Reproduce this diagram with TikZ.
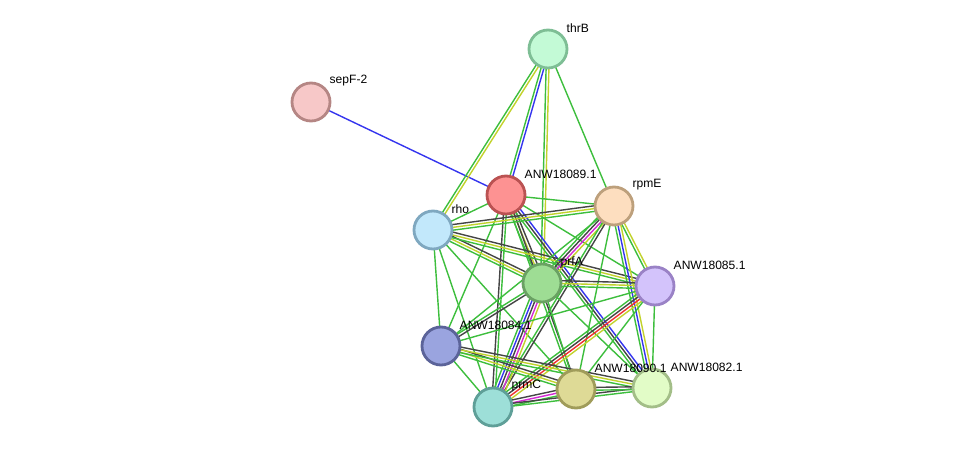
\documentclass[tikz,border=0pt]{standalone}
\usepackage{fontspec}
\setmainfont{Liberation Sans}
\usetikzlibrary{calc,backgrounds}
% edge colours
\definecolor{egreen}{HTML}{3DBE3D}
\definecolor{eyellow}{HTML}{C2D22C}
\definecolor{eblack}{HTML}{454545}
\definecolor{eblue}{HTML}{3535EE}
\definecolor{emagenta}{HTML}{D42AD4}
\definecolor{ered}{HTML}{EE3030}
% node colours
\definecolor{thrBf}{HTML}{C3FAD6}\definecolor{thrBd}{HTML}{7EBE95}
\definecolor{sepFf}{HTML}{F7C8C8}\definecolor{sepFd}{HTML}{B58684}
\definecolor{aeightninef}{HTML}{FD9292}\definecolor{aeightnined}{HTML}{BA5252}
\definecolor{rpmEf}{HTML}{FDDEBF}\definecolor{rpmEd}{HTML}{BDA07C}
\definecolor{rhof}{HTML}{C2E8FB}\definecolor{rhod}{HTML}{7FA8C0}
\definecolor{prfAf}{HTML}{9EDD94}\definecolor{prfAd}{HTML}{6AA163}
\definecolor{aeightfivef}{HTML}{D3C3FB}\definecolor{aeightfived}{HTML}{9A82C6}
\definecolor{aeightfourf}{HTML}{9AA4DF}\definecolor{aeightfourd}{HTML}{5B6399}
\definecolor{prmCf}{HTML}{9DDFD8}\definecolor{prmCd}{HTML}{5F9F98}
\definecolor{aninetyf}{HTML}{DEDA96}\definecolor{aninetyd}{HTML}{A09C5A}
\definecolor{aeighttwof}{HTML}{E2FCC7}\definecolor{aeighttwod}{HTML}{A3BE88}

% one link = parallel lines, one per evidence colour
\newcommand\linkedge[3]{%
  \foreach \c [count=\n] in {#3} {\xdef\nlines{\n}}
  \foreach \c [count=\i] in {#3} {
    \pgfmathsetmacro\off{(\i-(\nlines+1)/2)*2.4}
    \draw[\c] ($(#1)!\off pt!90:(#2)$) -- ($(#2)!\off pt!-90:(#1)$);
  }%
}

\begin{document}
\begin{tikzpicture}[x=0.03cm, y=-0.03cm,
  prot/.style={circle, minimum size=1.14cm, inner sep=0pt, line width=2.4pt},
  lbl/.style={anchor=west, inner sep=0pt, font=\fontsize{10.3}{12}\selectfont},
  every path/.style={line width=1.2pt}]
\useasboundingbox (0,0) rectangle (975,453);
\node[prot, fill=thrBf, draw=thrBd] (thrB) at (548,49) {};
\node[prot, fill=sepFf, draw=sepFd] (sepF) at (311,102) {};
\node[prot, fill=aeightninef, draw=aeightnined] (a89) at (506,195) {};
\node[prot, fill=rpmEf, draw=rpmEd] (rpmE) at (614,206) {};
\node[prot, fill=rhof, draw=rhod] (rho) at (433,230) {};
\node[prot, fill=prfAf, draw=prfAd] (prfA) at (542,283) {};
\node[prot, fill=aeightfivef, draw=aeightfived] (a85) at (655,286) {};
\node[prot, fill=aeightfourf, draw=aeightfourd] (a84) at (441,346) {};
\node[prot, fill=prmCf, draw=prmCd] (prmC) at (493,407) {};
\node[prot, fill=aninetyf, draw=aninetyd] (a90) at (576,389) {};
\node[prot, fill=aeighttwof, draw=aeighttwod] (a82) at (652,388) {};
% labels
\node[lbl] (thrB-l) at ($(thrB)+(18,-21)$) {thrB};
\node[lbl] (sepF-l) at ($(sepF)+(18,-21)$) {sepF-2};
\node[lbl] (a89-l) at ($(a89)+(18,-21)$) {ANW18089.1};
\node[lbl] (rpmE-l) at ($(rpmE)+(18,-21)$) {rpmE};
\node[lbl] (rho-l) at ($(rho)+(18,-21)$) {rho};
\node[lbl] (prfA-l) at ($(prfA)+(18,-21)$) {prfA};
\node[lbl] (a85-l) at ($(a85)+(18,-21)$) {ANW18085.1};
\node[lbl] (a84-l) at ($(a84)+(18,-21)$) {ANW18084.1};
\node[lbl] (prmC-l) at ($(prmC)+(18,-21)$) {prmC};
\node[lbl] (a90-l) at ($(a90)+(18,-21)$) {ANW18090.1};
\node[lbl] (a82-l) at ($(a82)+(18,-21)$) {ANW18082.1};
\begin{pgfonlayer}{background}
\linkedge{sepF}{a89}{eblue}
\linkedge{thrB}{rho}{egreen,eyellow}
\linkedge{thrB}{a89}{egreen,eblue}
\linkedge{thrB}{prfA}{egreen,eyellow}
\linkedge{thrB}{rpmE}{egreen}
\linkedge{a89}{rho}{egreen}
\linkedge{a89}{rpmE}{egreen}
\linkedge{a89}{prfA}{egreen,eyellow,eblack}
\linkedge{a89}{a82}{egreen,eblack,eblue}
\linkedge{a89}{a85}{egreen}
\linkedge{a89}{a84}{egreen}
\linkedge{a89}{prmC}{eblack,egreen}
\linkedge{a89}{a90}{egreen,eblack}
\linkedge{rho}{rpmE}{egreen,eyellow,eblack}
\linkedge{rho}{prfA}{egreen,eyellow,eblack}
\linkedge{rho}{a85}{egreen,eyellow,eblack}
\linkedge{rho}{a84}{egreen}
\linkedge{rho}{prmC}{egreen}
\linkedge{rho}{a90}{egreen}
\linkedge{rpmE}{prfA}{egreen,eblack,emagenta,eyellow}
\linkedge{rpmE}{a85}{egreen,eyellow}
\linkedge{rpmE}{a82}{egreen,eblue,eyellow}
\linkedge{rpmE}{prmC}{egreen,eblack}
\linkedge{rpmE}{a84}{egreen}
\linkedge{rpmE}{a90}{egreen}
\linkedge{prfA}{a85}{egreen,eyellow,eblack}
\linkedge{prfA}{a84}{egreen,eblack}
\linkedge{prfA}{prmC}{egreen,eblue,eblack,emagenta,eyellow}
\linkedge{prfA}{a90}{egreen}
\linkedge{prfA}{a82}{egreen}
\linkedge{a85}{a84}{egreen}
\linkedge{a85}{prmC}{egreen,eblack,ered,eyellow}
\linkedge{a85}{a90}{egreen}
\linkedge{a85}{a82}{egreen}
\linkedge{a84}{prmC}{egreen}
\linkedge{a84}{a90}{egreen,eyellow,eblack}
\linkedge{a84}{a82}{egreen,eyellow,eblack}
\linkedge{prmC}{a90}{egreen,emagenta,eblack}
\linkedge{prmC}{a82}{egreen,eblack}
\linkedge{a90}{a82}{egreen,eblack}
\end{pgfonlayer}
\end{tikzpicture}
\end{document}
